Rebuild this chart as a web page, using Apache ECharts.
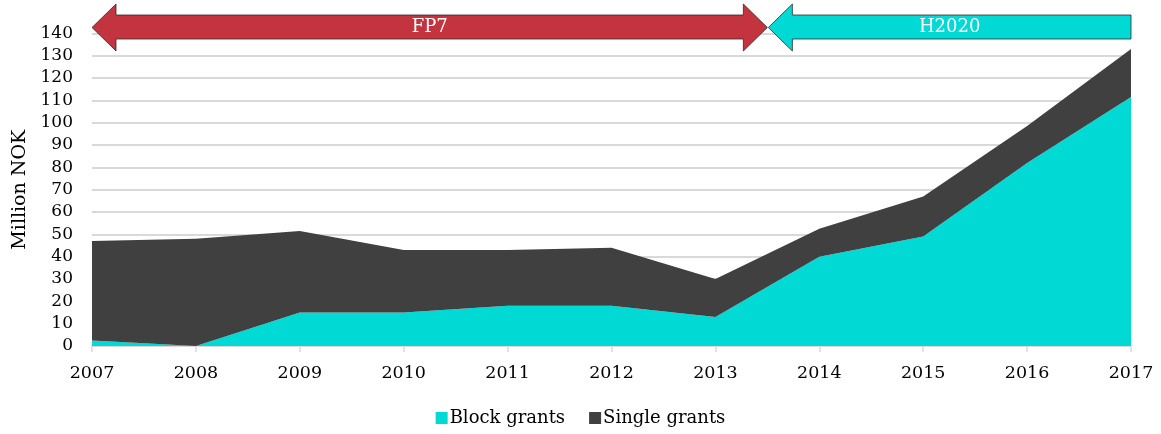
<!DOCTYPE html>
<html>
<head>
<meta charset="utf-8">
<script src="https://cdn.jsdelivr.net/npm/echarts@6/dist/echarts.min.js"></script>
<style>
  html, body { margin: 0; padding: 0; background: #fff; }
  #main { width: 1161px; height: 434px; }
</style>
</head>
<body>
<div id="main"></div>
<script>
const years = ['2007', '2008', '2009', '2010', '2011', '2012', '2013', '2014', '2015', '2016', '2017'];
const blockGrants = [2.5, 0, 15, 15, 18, 18, 13, 40, 49, 82, 111.5];
const singleGrants = [44.5, 48, 36.5, 28, 25, 26, 17, 12.5, 18, 16.5, 21.5];
// programme periods, as positions on the year axis (index 0 = 2007)
const periodNames = ['FP7', 'H2020'];
const periodFrom = [0, 6.5];
const periodTo = [6.5, 10];
const periodColors = ['#C3343F', '#00D9D4'];

const FONT = 'DejaVu Serif';
const chart = echarts.init(document.getElementById('main'));

chart.setOption({
    animation: false,
    textStyle: { fontFamily: FONT, color: '#000' },
    grid: { left: 92, right: 30, top: 33.4, bottom: 88 },
    legend: {
        bottom: 2,
        left: 'center',
        itemWidth: 12,
        itemHeight: 12,
        itemGap: 24,
        icon: 'rect',
        textStyle: { fontFamily: FONT, fontSize: 18, color: '#000', padding: [0, 0, 0, -3] },
        data: ['Block grants', 'Single grants']
    },
    xAxis: {
        type: 'category',
        boundaryGap: false,
        data: years,
        axisLine: { lineStyle: { color: '#d9d9d9', width: 2 } },
        axisTick: { show: true, length: 6, lineStyle: { color: '#d9d9d9', width: 1.5 } },
        axisLabel: { fontFamily: FONT, fontSize: 17.5, color: '#000', margin: 18 }
    },
    yAxis: {
        type: 'value',
        min: 0,
        max: 140,
        interval: 10,
        name: 'Million NOK',
        nameLocation: 'middle',
        nameGap: 62,
        nameTextStyle: { fontFamily: FONT, fontSize: 19, color: '#000' },
        axisLine: { show: false },
        axisTick: { show: false },
        axisLabel: { fontFamily: FONT, fontSize: 17, color: '#000', margin: 19 },
        splitLine: { lineStyle: { color: '#d9d9d9', width: 2 } }
    },
    series: [
        {
            name: 'Block grants',
            type: 'line',
            stack: 'total',
            data: blockGrants,
            symbol: 'none',
            lineStyle: { width: 0 },
            itemStyle: { color: '#00D9D4' },
            areaStyle: { color: '#00D9D4', opacity: 1 }
        },
        {
            name: 'Single grants',
            type: 'line',
            stack: 'total',
            data: singleGrants,
            symbol: 'none',
            lineStyle: { width: 0 },
            itemStyle: { color: '#404040' },
            areaStyle: { color: '#404040', opacity: 1 }
        }
    ]
});

// period arrows on top, placed through the x axis
function xAt(pos) {
    const i = Math.floor(pos);
    const j = Math.min(i + 1, years.length - 1);
    const a = chart.convertToPixel({ xAxisIndex: 0 }, years[i]);
    const b = chart.convertToPixel({ xAxisIndex: 0 }, years[j]);
    return a + (b - a) * (pos - i);
}
const yMid = 27.5, headTop = 4, headBot = 51, bodyTop = 15, bodyBot = 39, headLen = 24;
const graphics = [];
periodNames.forEach(function (name, k) {
    const xl = xAt(periodFrom[k]) + (k === 1 ? 1 : 0);
    const xr = xAt(periodTo[k]);
    let pts;
    if (k === 0) {
        pts = [[xl, yMid], [xl + headLen, headTop], [xl + headLen, bodyTop], [xr - headLen, bodyTop],
               [xr - headLen, headTop], [xr, yMid], [xr - headLen, headBot], [xr - headLen, bodyBot],
               [xl + headLen, bodyBot], [xl + headLen, headBot]];
    } else {
        pts = [[xl, yMid], [xl + headLen, headTop], [xl + headLen, bodyTop], [xr, bodyTop],
               [xr, bodyBot], [xl + headLen, bodyBot], [xl + headLen, headBot]];
    }
    graphics.push({
        type: 'polygon',
        shape: { points: pts },
        style: { fill: periodColors[k], stroke: '#2b2b2b', lineWidth: 0.8 },
        z: 100
    });
    graphics.push({
        type: 'text',
        x: (xl + xr) / 2,
        y: yMid,
        style: {
            text: name,
            fill: '#fff',
            font: '18px "' + FONT + '"',
            align: 'center',
            verticalAlign: 'middle'
        },
        z: 101
    });
});
chart.setOption({ graphic: graphics });
</script>
</body>
</html>
